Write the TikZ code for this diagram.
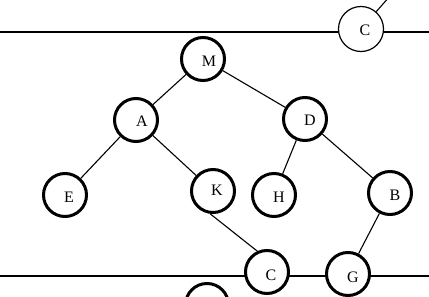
\documentclass[tikz,border=0pt]{standalone}
\usepackage{fontspec}
\setmainfont{Liberation Serif}
\begin{document}
\begin{tikzpicture}[x=1pt,y=-1pt,
  lbl/.style={font=\fontsize{16}{16}\selectfont},
  tnode/.style={circle,draw,line width=3pt,fill=white,minimum size=43pt,inner sep=0pt},
  thinnode/.style={circle,draw,line width=1.2pt,fill=white,minimum size=45pt,inner sep=0pt},
  edge/.style={line width=1.1pt}]
\useasboundingbox (0,0) rectangle (429,297);
\clip (0,0) rectangle (429,297);
% horizontal lines
\coordinate (tl) at (0,32);
\coordinate (tr) at (429,32);
\coordinate (bl) at (0,276);
\coordinate (br) at (429,276);
\draw[edge] (tl) -- (tr);
\draw[edge] (bl) -- (br);
% nodes
\node[thinnode,label={[lbl,xshift=4pt,yshift=-1pt]center:C}] (ct) at (361,29) {};
\node[tnode,label={[lbl,xshift=6pt,yshift=-2pt]center:M}] (m) at (203,59) {};
\node[tnode,label={[lbl,xshift=6pt,yshift=-1pt]center:A}] (a) at (136,120) {};
\node[tnode,label={[lbl,xshift=5pt,yshift=-1pt]center:D}] (d) at (305,119) {};
\node[tnode,label={[lbl,xshift=4pt,yshift=-2pt]center:E}] (e) at (65,195) {};
\node[tnode,label={[lbl,xshift=4pt,yshift=1pt]center:K}] (k) at (213,191) {};
\node[tnode,label={[lbl,xshift=5pt,yshift=-2pt]center:H}] (h) at (274,195) {};
\node[tnode,label={[lbl,xshift=5pt,yshift=-2pt]center:B}] (b) at (390,193) {};
\node[tnode,label={[lbl,xshift=4pt,yshift=-3pt]center:C}] (cb) at (267,272) {};
\node[tnode,label={[lbl,xshift=5pt,yshift=-3pt]center:G}] (g) at (348,274) {};
\node[tnode] (p) at (207,305) {};
\coordinate (up) at (390,-4);
% edges
\draw[edge] (ct) -- (up);
\draw[edge] (m) -- (a);
\draw[edge] (m) -- (d);
\draw[edge] (a) -- (e);
\draw[edge] (a) -- (k);
\draw[edge] (d) -- (h);
\draw[edge] (d) -- (b);
\draw[edge] (k.263) -- (cb.115);
\draw[edge] (b) -- (g);
\end{tikzpicture}
\end{document}
